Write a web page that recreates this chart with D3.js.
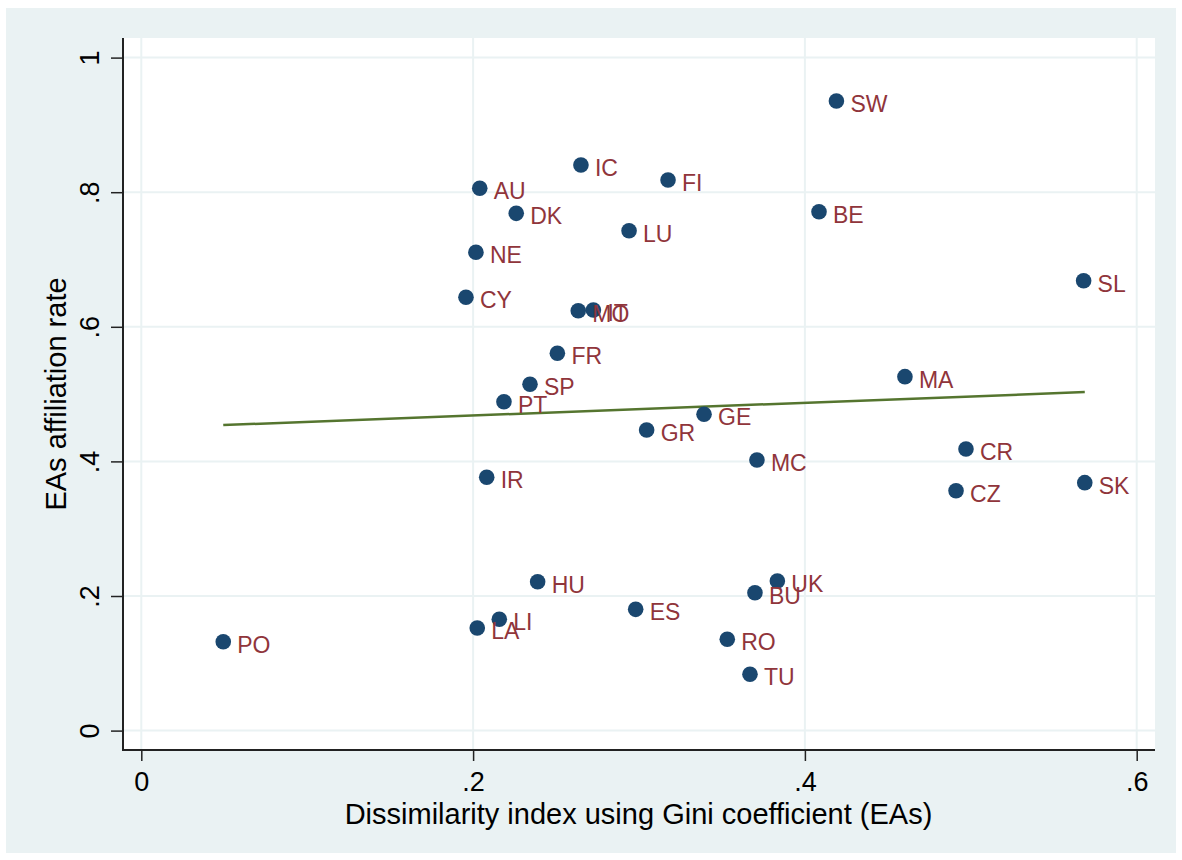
<!DOCTYPE html>
<html>
<head>
<meta charset="utf-8">
<script src="https://cdn.jsdelivr.net/npm/d3@7"></script>
<style>
	body { margin: 0; background: #ffffff; }
	text { font-family: "Liberation Sans", Arial, Helvetica, sans-serif; }
</style>
</head>
<body>
<div id="chart-div"></div>
<script>

// country codes and values
const countries = ["SW", "IC", "FI", "AU", "DK", "BE", "LU", "NE", "SL", "CY", "MO", "IT", "FR", "MA", "SP", "PT",
	"GE", "GR", "CR", "MC", "IR", "CZ", "SK", "HU", "UK", "BU", "ES", "LI", "LA", "RO", "TU", "PO"];
const giniIndex = [0.419, 0.265, 0.3175, 0.204, 0.226, 0.4085, 0.294, 0.2017, 0.568, 0.1957, 0.2634, 0.2725, 0.2508, 0.4603, 0.2343, 0.2186,
	0.3392, 0.3046, 0.4971, 0.3711, 0.2082, 0.4911, 0.5687, 0.2389, 0.3834, 0.3699, 0.298, 0.2158, 0.2025, 0.3532, 0.3669, 0.0494];
const affiliationRate = [0.9355, 0.8404, 0.8181, 0.8058, 0.7686, 0.771, 0.7428, 0.7107, 0.6685, 0.6438, 0.6239, 0.625, 0.5606, 0.5259, 0.5146, 0.4887,
	0.47, 0.4467, 0.4184, 0.4021, 0.3764, 0.3565, 0.3684, 0.2212, 0.2223, 0.2049, 0.1802, 0.1654, 0.1525, 0.1357, 0.0837, 0.1321];

// linear fit line end points
const fitX = [0.0494, 0.5687];
const fitY = [0.454, 0.503];

const xTicks = [0, 0.2, 0.4, 0.6];
const xTickLabels = ["0", ".2", ".4", ".6"];
const yTicks = [0, 0.2, 0.4, 0.6, 0.8, 1];
const yTickLabels = ["0", ".2", ".4", ".6", ".8", "1"];

const xTitle = "Dissimilarity index using Gini coefficient (EAs)";
const yTitle = "EAs affiliation rate";

const width = 1182;
const height = 860;
const plot = { left: 122, right: 1155, top: 38, bottom: 750 };

let svg = d3.select("#chart-div")
			.append("svg")
			.attr("width", width)
			.attr("height", height);

// outer graph region
svg.append("rect")
	.attr("x", 6)
	.attr("y", 8)
	.attr("width", 1170)
	.attr("height", 845)
	.attr("fill", "#eaf2f3");

svg.append("rect")
	.attr("x", plot.left)
	.attr("y", plot.top)
	.attr("width", plot.right - plot.left)
	.attr("height", plot.bottom - plot.top)
	.attr("fill", "#ffffff");

const xScale = d3.scaleLinear()
				.domain([0, 0.6])
				.range([141.3, 1136.7]);
const yScale = d3.scaleLinear()
				.domain([0, 1])
				.range([730.6, 57.6]);

// grid
svg.append("g")
	.selectAll("line")
	.data(yTicks)
	.enter()
	.append("line")
	.attr("x1", plot.left)
	.attr("x2", plot.right)
	.attr("y1", d => yScale(d))
	.attr("y2", d => yScale(d))
	.attr("stroke", "#eaf2f3")
	.attr("stroke-width", 2);

svg.append("g")
	.selectAll("line")
	.data(xTicks)
	.enter()
	.append("line")
	.attr("x1", d => xScale(d))
	.attr("x2", d => xScale(d))
	.attr("y1", plot.top)
	.attr("y2", plot.bottom)
	.attr("stroke", "#eaf2f3")
	.attr("stroke-width", 2);

// axes
const xAxis = d3.axisBottom(xScale)
				.tickValues(xTicks)
				.tickFormat((d, i) => xTickLabels[i])
				.tickSize(11)
				.tickSizeOuter(0);
let gx = svg.append("g")
	.attr("transform", "translate(0," + plot.bottom + ")")
	.call(xAxis);
gx.select(".domain").remove();
gx.selectAll("line").attr("stroke", "#222").attr("stroke-width", 1.5);
gx.selectAll("text")
	.attr("y", 41)
	.attr("dy", 0)
	.attr("fill", "#000")
	.style("font-size", "27px");

const yAxis = d3.axisLeft(yScale)
				.tickValues(yTicks)
				.tickFormat((d, i) => yTickLabels[i])
				.tickSize(12)
				.tickSizeOuter(0);
let gy = svg.append("g")
	.attr("transform", "translate(" + (plot.left + 1) + ",0)")
	.call(yAxis);
gy.select(".domain").remove();
gy.selectAll("line").attr("stroke", "#222").attr("stroke-width", 1.5);
gy.selectAll("text")
	.attr("transform", "rotate(-90)")
	.attr("x", 0)
	.attr("y", -24)
	.attr("dy", 0)
	.attr("fill", "#000")
	.style("text-anchor", "middle")
	.style("font-size", "27px");

svg.append("line")
	.attr("x1", plot.left + 1)
	.attr("x2", plot.left + 1)
	.attr("y1", plot.top)
	.attr("y2", plot.bottom)
	.attr("stroke", "#222")
	.attr("stroke-width", 2);
svg.append("line")
	.attr("x1", plot.left)
	.attr("x2", plot.right)
	.attr("y1", plot.bottom)
	.attr("y2", plot.bottom)
	.attr("stroke", "#222")
	.attr("stroke-width", 2);

// axis titles
svg.append("text")
	.attr("x", (plot.left + plot.right) / 2)
	.attr("y", 824)
	.attr("text-anchor", "middle")
	.style("font-size", "29px")
	.text(xTitle);

svg.append("text")
	.attr("transform", "translate(66," + (plot.top + plot.bottom) / 2 + ") rotate(-90)")
	.attr("text-anchor", "middle")
	.style("font-size", "29px")
	.text(yTitle);

// fitted line
const fitData = fitX.map((x, i) => [x, fitY[i]]);
svg.append("path")
	.datum(fitData)
	.attr("d", d3.line().x(d => xScale(d[0])).y(d => yScale(d[1])))
	.attr("fill", "none")
	.attr("stroke", "#55752f")
	.attr("stroke-width", 2.5);

// points and labels
const points = countries.map((c, i) => ({ name: c, x: giniIndex[i], y: affiliationRate[i] }));

svg.append("g")
	.selectAll("circle")
	.data(points)
	.enter()
	.append("circle")
	.attr("cx", d => xScale(d.x))
	.attr("cy", d => yScale(d.y))
	.attr("r", 7.8)
	.attr("fill", "#1a476f");

svg.append("g")
	.selectAll("text")
	.data(points)
	.enter()
	.append("text")
	.attr("x", d => xScale(d.x) + 14)
	.attr("y", d => yScale(d.y) + 11)
	.attr("fill", "#90353b")
	.style("font-size", "23px")
	.text(d => d.name);

</script>
</body>
</html>
